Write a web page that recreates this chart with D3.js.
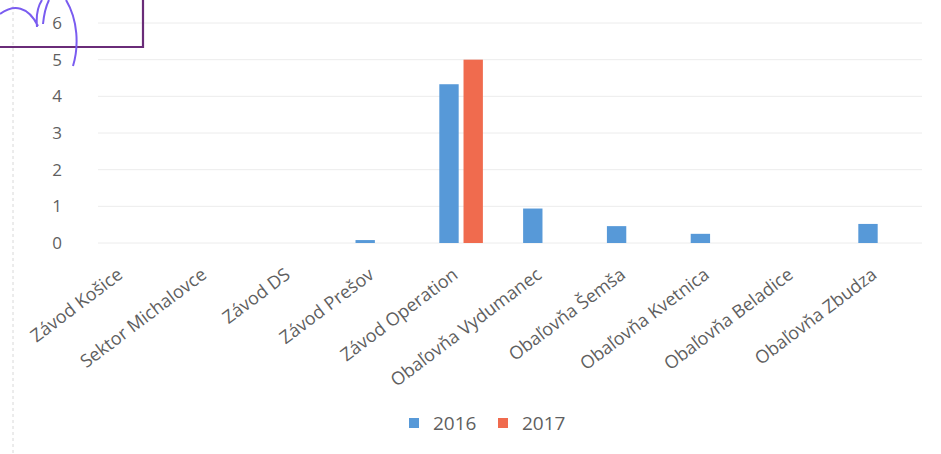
<!DOCTYPE html>
<html>
<head>
<meta charset="utf-8">
<script src="https://cdn.jsdelivr.net/npm/d3@7"></script>
<style>
  html, body { margin: 0; padding: 0; background: #fff; }
  svg { display: block; }
  text { font-family: "Open Sans", "Noto Sans", sans-serif; fill: #5f5f5f; }
</style>
</head>
<body>
<svg id="chart" width="941" height="454"></svg>
<script>
// Sites shown on the category axis
const categories = [
  "Závod Košice", "Sektor Michalovce", "Závod DS", "Závod Prešov", "Závod Operation",
  "Obaľovňa Vydumanec", "Obaľovňa Šemša", "Obaľovňa Kvetnica", "Obaľovňa Beladice", "Obaľovňa Zbudza"
];
// Yearly values per site (null = no bar)
const values2016 = [null, null, null, 0.08, 4.33, 0.94, 0.46, 0.25, null, 0.52];
const values2017 = [null, null, null, null, 5.0, null, null, null, null, null];
const seriesNames = ["2016", "2017"];
const seriesColors = ["#5799d8", "#f06b4e"];
const yTicks = [0, 1, 2, 3, 4, 5, 6];

const svg = d3.select("#chart");
const plot = { left: 84, right: 922, top: 23, bottom: 243 };

const x0 = d3.scaleBand().domain(categories)
  .range([plot.left, plot.right]).paddingInner(0.48).paddingOuter(0.24);
const x1 = d3.scaleBand().domain(seriesNames)
  .range([0, x0.bandwidth()]).paddingInner(0.2);
const y = d3.scaleLinear().domain([0, 6]).range([plot.bottom, plot.top]);

// left edge of the chart frame
svg.append("line")
  .attr("x1", 13).attr("x2", 13).attr("y1", 0).attr("y2", 454)
  .attr("stroke", "#d8d8d8").attr("stroke-dasharray", "3,3");

// horizontal gridlines
svg.append("g")
  .selectAll("line").data(yTicks).join("line")
  .attr("x1", plot.left + 14).attr("x2", plot.right)
  .attr("y1", d => y(d)).attr("y2", d => y(d))
  .attr("stroke", "#ececec").attr("stroke-width", 1);

// y axis labels
const yAxis = svg.append("g")
  .attr("transform", `translate(${62},0)`)
  .call(d3.axisLeft(y).tickValues(yTicks).tickSize(0).tickPadding(0).tickFormat(d3.format("d")));
yAxis.select(".domain").remove();
yAxis.selectAll("text")
  .attr("dy", "0.32em")
  .style("font-size", "17px")
  .style("fill", "#5f5f5f");

// grouped bars
const rows = categories.map((c, i) => ({ cat: c, vals: [values2016[i], values2017[i]] }));
const groups = svg.append("g").selectAll("g").data(rows).join("g")
  .attr("transform", d => `translate(${x0(d.cat)},0)`);
groups.selectAll("rect")
  .data(d => d.vals.map((v, k) => ({ key: seriesNames[k], v, k })).filter(e => e.v !== null))
  .join("rect")
  .attr("x", e => x1(e.key))
  .attr("width", x1.bandwidth())
  .attr("y", e => y(e.v))
  .attr("height", e => y(0) - y(e.v))
  .attr("fill", e => seriesColors[e.k]);

// rotated category labels
const xAxis = svg.append("g")
  .attr("transform", `translate(0,${plot.bottom})`)
  .call(d3.axisBottom(x0).tickSize(0).tickPadding(0));
xAxis.select(".domain").remove();
xAxis.selectAll("text")
  .attr("text-anchor", "end")
  .attr("dy", 0)
  .attr("y", 0)
  .attr("transform", "translate(-2,34) rotate(-37)")
  .style("font-size", "18px")
  .style("fill", "#5f5f5f");

// legend
const legend = svg.append("g");
const legendX = [409, 498];
seriesNames.forEach((name, k) => {
  legend.append("rect")
    .attr("x", legendX[k]).attr("y", 418).attr("width", 10).attr("height", 10)
    .attr("fill", seriesColors[k]);
  legend.append("text")
    .attr("x", legendX[k] + 24).attr("y", 423).attr("dy", "0.35em")
    .style("font-size", "19px")
    .text(name);
});

// pen marks over the top-left corner
const ink = svg.append("g").attr("fill", "none");
ink.append("path")
  .attr("d", "M0,47 L143,47 L143,0")
  .attr("stroke", "#6a2c78").attr("stroke-width", 2.2);
ink.append("path")
  .attr("d", "M0,14 C14,4 28,6 38,26 M37,27 C36,16 38,6 42,0 M43,24 C44,14 46,6 49,0 M66,0 C78,20 79,46 73,66")
  .attr("stroke", "#7a5cf0").attr("stroke-width", 2);
</script>
</body>
</html>
